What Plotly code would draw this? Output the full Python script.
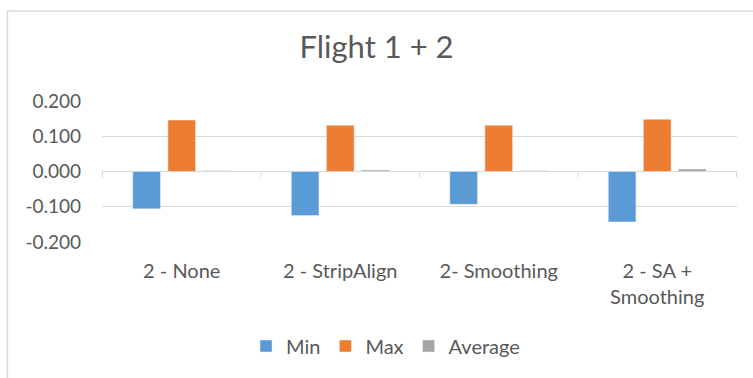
import plotly.graph_objects as go

# Flight 1 + 2 error statistics per processing variant
categories = ["2 - None", "2 - StripAlign", "2- Smoothing", "2 - SA +<br>Smoothing"]
min_vals = [-0.106, -0.125, -0.093, -0.143]
max_vals = [0.146, 0.131, 0.131, 0.148]
avg_vals = [0.002, 0.004, 0.002, 0.007]

y_ticks = [-0.2, -0.1, 0.0, 0.1, 0.2]
y_tick_text = ["-0.200", "-0.100", "0.000", "0.100", "0.200"]

FONT = "Lato"
TEXT = "#595959"
GRID = "#d9d9d9"

fig = go.Figure()
fig.add_bar(name="Min", x=categories, y=min_vals, marker_color="#5b9bd5")
fig.add_bar(name="Max", x=categories, y=max_vals, marker_color="#ed7d31")
fig.add_bar(name="Average", x=categories, y=avg_vals, marker_color="#a5a5a5")

# short tick marks below the zero line at the category boundaries
shapes = []
for b in [-0.5, 0.5, 1.5, 2.5, 3.5]:
    shapes.append(dict(type="line", xref="x", yref="y", x0=b, x1=b, y0=0, y1=-0.017,
                       line=dict(color=GRID, width=1)))
# chart border (open to the right and bottom edges of the page)
shapes.append(dict(type="rect", xref="paper", yref="paper", layer="below",
                   x0=-0.149, x1=1.3, y0=-1.2, y1=1.6375,
                   line=dict(color=GRID, width=1.5)))

fig.update_layout(
    width=753, height=378,
    margin=dict(l=102, r=16, t=101, b=136),
    paper_bgcolor="white", plot_bgcolor="white",
    font=dict(family=FONT, color=TEXT, size=19),
    title=dict(text="Flight 1 + 2", x=0.5, xanchor="center", y=0.875, yanchor="middle",
               font=dict(family=FONT, size=31, color=TEXT)),
    barmode="group", bargap=0.335, bargroupgap=0.213,
    showlegend=True,
    legend=dict(orientation="h", x=246 / 753, xanchor="left", xref="container",
                y=(378 - 346) / 378, yref="container", yanchor="middle",
                font=dict(size=20, color=TEXT), itemwidth=30,
                traceorder="normal"),
    shapes=shapes,
)
fig.update_xaxes(showgrid=False, showline=False, ticks="", tickfont=dict(size=20, color=TEXT),
                 ticklabelstandoff=15, fixedrange=True)
fig.update_yaxes(range=[-0.2, 0.2], tickvals=y_ticks, ticktext=y_tick_text,
                 showgrid=True, gridcolor=GRID, gridwidth=1,
                 zeroline=True, zerolinecolor=GRID, zerolinewidth=1,
                 showline=False, ticks="", ticklabelstandoff=20,
                 tickfont=dict(size=19, color=TEXT), fixedrange=True)

fig.write_html("out.html")
